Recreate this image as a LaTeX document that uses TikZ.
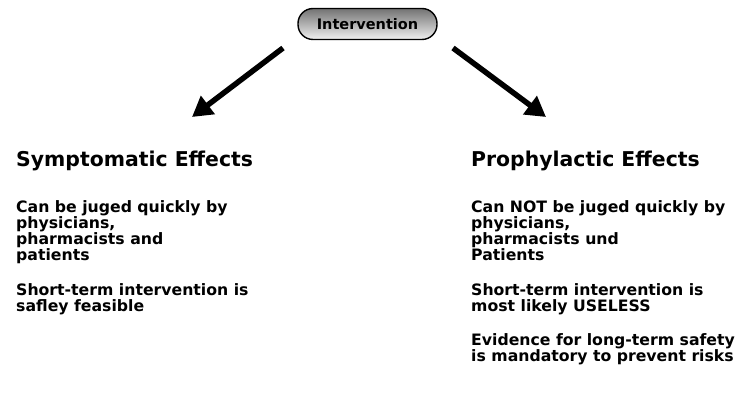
\documentclass[tikz,border=0pt]{standalone}
\usepackage{fontspec}
\setmainfont{DejaVu Sans}
\usepackage{tikz}
\usetikzlibrary{arrows.meta}

\tikzset{
  pill/.style={draw, line width=1.4pt, rounded corners=15pt, minimum width=139pt,
    minimum height=31pt, top color=black!55, bottom color=black!6,
    font=\bfseries\fontsize{14.5}{16}\selectfont},
  headtext/.style={anchor=base west, inner sep=0pt, font=\bfseries\fontsize{20.4}{24}\selectfont},
  bodytext/.style={anchor=north west, inner sep=0pt, align=left,
    font=\bfseries\fontsize{15.7}{16}\selectfont},
  bigarrow/.style={line width=5.5pt, -{Triangle[length=20pt,width=22pt]}}
}

\begin{document}
\begin{tikzpicture}[x=1pt,y=-1pt]
\useasboundingbox (0,0) rectangle (740,411);

\node[pill] (intv) at (367.5,24) {Intervention};

\coordinate (l0) at (283,48);
\coordinate (l1) at (192,117);
\coordinate (r0) at (453,48);
\coordinate (r1) at (546,117);

\node[headtext] (symp) at (16,167) {Symptomatic Effects};
\node[bodytext] (symp1) at (16,200) {Can be juged quickly by\\physicians,\\pharmacists and\\patients};
\node[bodytext] (symp2) at (16,283) {Short-term intervention is\\safley feasible};

\node[headtext] (prop) at (471,167) {Prophylactic Effects};
\node[bodytext] (prop1) at (471,200) {Can NOT be juged quickly by\\physicians,\\pharmacists und\\Patients};
\node[bodytext] (prop2) at (471,283) {Short-term intervention is\\most likely USELESS};
\node[bodytext] (prop3) at (471,333) {Evidence for long-term safety\\is mandatory to prevent risks};

\draw[bigarrow] (l0) -- (l1);
\draw[bigarrow] (r0) -- (r1);

\end{tikzpicture}
\end{document}
